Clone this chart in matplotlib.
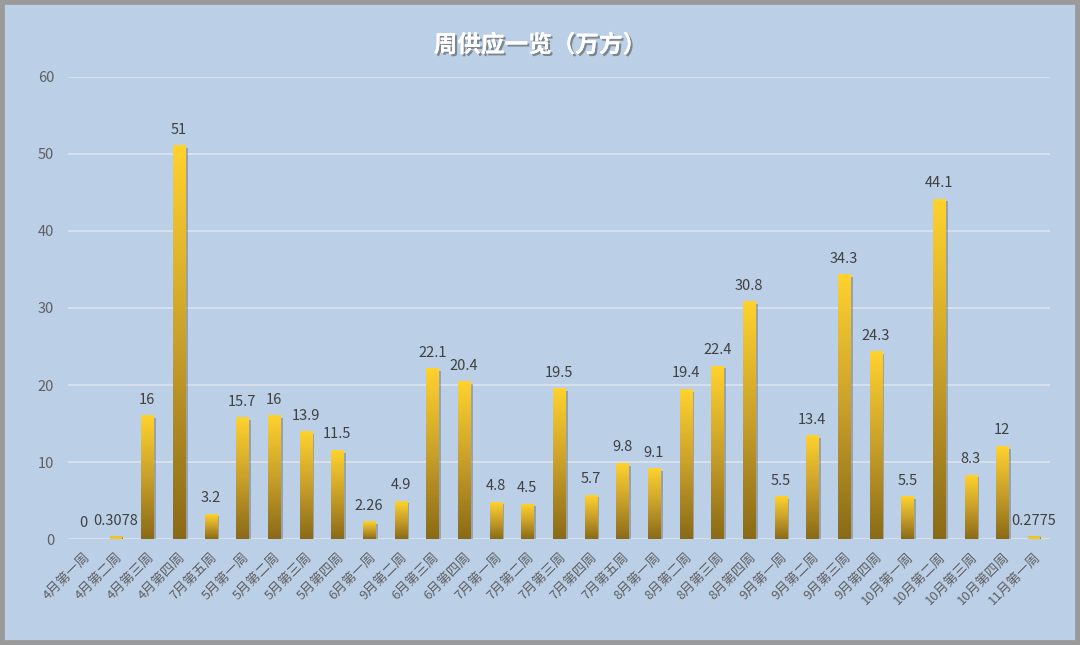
import matplotlib
matplotlib.use("Agg")
import matplotlib.pyplot as plt
import matplotlib.patches as mpatches
import matplotlib.patheffects as pe
import numpy as np

plt.rcParams['font.family'] = ['Noto Sans CJK SC', 'DejaVu Sans']

WEEKS = ["4月第一周", "4月第二周", "4月第三周", "4月第四周", "7月第五周",
         "5月第一周", "5月第二周", "5月第三周", "5月第四周", "6月第一周",
         "9月第二周", "6月第三周", "6月第四周", "7月第一周", "7月第二周",
         "7月第三周", "7月第四周", "7月第五周", "8月第一周", "8月第二周",
         "8月第三周", "8月第四周", "9月第一周", "9月第二周", "9月第三周",
         "9月第四周", "10月第一周", "10月第二周", "10月第三周", "10月第四周",
         "11月第一周"]
SUPPLY = [0, 0.3078, 16, 51, 3.2, 15.7, 16, 13.9, 11.5, 2.26,
          4.9, 22.1, 20.4, 4.8, 4.5, 19.5, 5.7, 9.8, 9.1, 19.4,
          22.4, 30.8, 5.5, 13.4, 34.3, 24.3, 5.5, 44.1, 8.3, 12,
          0.2775]
LABELS = ["0", "0.3078", "16", "51", "3.2", "15.7", "16", "13.9", "11.5", "2.26",
          "4.9", "22.1", "20.4", "4.8", "4.5", "19.5", "5.7", "9.8", "9.1", "19.4",
          "22.4", "30.8", "5.5", "13.4", "34.3", "24.3", "5.5", "44.1", "8.3", "12",
          "0.2775"]

BG = "#bbcfe6"
TXT = "#606060"

fig = plt.figure(figsize=(10.8, 6.45), dpi=100, facecolor=BG)
# gray frame around the chart
fig.patches.append(mpatches.Rectangle((0, 0), 1, 1, transform=fig.transFigure,
                                      fill=False, edgecolor="#9a9a9a", linewidth=7))
ax = fig.add_axes([0.063, 0.164, 0.909, 0.717])
ax.set_facecolor(BG)

x = np.arange(len(WEEKS))
w = 0.38

# vertical gradient: dark gold at bottom, bright yellow at top
grad = np.linspace(0, 1, 256).reshape(-1, 1)
cmap = matplotlib.colors.LinearSegmentedColormap.from_list(
    "gold", ["#8a6a17", "#c9a02a", "#ffd22e"])

for xi, v in zip(x, SUPPLY):
    if v <= 0:
        continue
    # soft shadow
    ax.bar(xi + 0.09, v, width=w, bottom=-0.25, color="#4a5060", alpha=0.35,
           zorder=2, linewidth=0)
    ax.imshow(grad, extent=[xi - w / 2, xi + w / 2, 0, v], origin="lower",
              cmap=cmap, aspect="auto", zorder=3)
# tiny bars still visible as a yellow sliver
for xi, v in zip(x, SUPPLY):
    if 0 < v < 1:
        ax.bar(xi, 0.25, width=w, color="#f2c52a", zorder=4, linewidth=0)

for xi, v, lab in zip(x, SUPPLY, LABELS):
    ax.text(xi, v + 1.2, lab, ha="center", va="bottom", fontsize=10.5,
            color="#404040", zorder=5)

ax.set_xlim(-0.5, len(WEEKS) - 0.5)
ax.set_ylim(0, 60)
ax.set_yticks(range(0, 61, 10))
ax.tick_params(axis="y", length=0, labelsize=10.5, labelcolor=TXT, pad=10)
ax.yaxis.grid(True, color="#dde4ec", linewidth=1.2, zorder=0)
ax.set_axisbelow(True)
for s in ax.spines.values():
    s.set_visible(False)

ax.set_xticks(x)
ax.set_xticklabels(WEEKS, rotation=45, ha="right", rotation_mode="anchor",
                   fontsize=9.5, color=TXT)
ax.tick_params(axis="x", length=0, pad=8)

fig.text(0.5, 0.93, "周供应一览（万方）", ha="center", va="center", fontsize=17,
         fontweight="bold", color="white",
         path_effects=[pe.withSimplePatchShadow(offset=(1.5, -1.5),
                                                shadow_rgbFace="#555555", alpha=0.6),
                       pe.Normal()])

fig.savefig("out.png", dpi=100, facecolor=BG)
